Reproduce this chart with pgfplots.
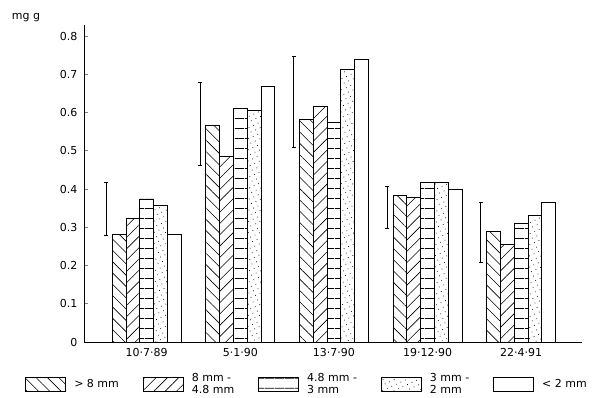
\documentclass[border=0pt]{standalone}
\usepackage{fontspec}
\setmainfont{DejaVu Sans}
\usepackage{pgfplots}
\pgfplotsset{compat=1.18}
\usetikzlibrary{patterns.meta}

% concentration (mg/g) per sieve fraction at each sampling date
\pgfplotstableread{
x     a      b      c      d      e
0     0.282  0.323  0.374  0.357  0.282
1     0.567  0.484  0.611  0.606  0.667
2     0.583  0.617  0.573  0.714  0.740
3     0.384  0.379  0.416  0.416  0.400
4     0.288  0.256  0.311  0.332  0.366
}\fractions

\pgfplotsset{
  legbox/.style={legend image code/.code={\draw[##1] (0bp,-7bp) rectangle (40bp,7bp);}},
  barstyle/.style={ybar, bar width=13.8bp, draw=black, line width=0.9bp, legbox},
}

\begin{document}
\begin{tikzpicture}[font=\fontsize{11bp}{12.5bp}\selectfont]
\useasboundingbox (-84bp,-56bp) rectangle (510bp,342bp);
\begin{axis}[
  scale only axis, width=498bp, height=317bp,
  xmin=-0.67, xmax=4.65, ymin=0, ymax=0.829,
  axis x line*=bottom, axis y line*=left,
  axis line style={-, line width=0.9bp},
  xtick={0,1,2,3,4},
  xticklabels={10·7·89,5·1·90,13·7·90,19·12·90,22·4·91},
  x tick style={draw=none},
  xticklabel style={yshift=-3bp},
  ytick={0,0.1,0.2,0.3,0.4,0.5,0.6,0.7,0.8},
  yticklabels={0,0.1,0.2,0.3,0.4,0.5,0.6,0.7,0.8},
  y tick style={line width=0.8bp},
  tick align=inside, major tick length=4bp,
  yticklabel style={xshift=-3bp},
  ylabel={mg g},
  ylabel style={rotate=-90, at={(axis description cs:-0.1165,1.024)}, anchor=center},
  legend columns=5,
  legend style={draw=none, fill=none, at={(axis description cs:0.448,-0.1325)}, anchor=center,
    inner sep=0pt,
    /tikz/every even column/.append style={column sep=22bp},
    /tikz/every odd column/.append style={column sep=6bp},
    cells={align=left}},
]
\addplot[barstyle, bar shift=-27.6bp, pattern={Lines[angle=-45,distance=8bp,line width=0.6bp]}]
  table[x=x,y=a] {\fractions};
\addlegendentry{> 8 mm}
\addplot[barstyle, bar shift=-13.8bp, pattern={Lines[angle=45,distance=8bp,line width=0.6bp]}]
  table[x=x,y=b] {\fractions};
\addlegendentry{8 mm -\\4.8 mm}
\addplot[barstyle, bar shift=0bp, pattern={Lines[angle=0,distance=10bp,line width=0.7bp]}]
  table[x=x,y=c] {\fractions};
\addlegendentry{4.8 mm -\\3 mm}
\addplot[barstyle, bar shift=13.8bp, pattern={Dots[distance=5bp,radius=0.5bp,angle=25]}]
  table[x=x,y=d] {\fractions};
\addlegendentry{3 mm -\\2 mm}
\addplot[barstyle, bar shift=27.6bp, fill=white]
  table[x=x,y=e] {\fractions};
\addlegendentry{< 2 mm}
% range bars to the left of each group
\addplot[forget plot, draw=none, mark=none,
  error bars/.cd, y dir=both, y explicit, error mark=|,
  error mark options={mark size=2bp, line width=0.8bp, draw=black},
  error bar style={line width=0.9bp, draw=black}]
  coordinates {
    (-0.43,0.348) +- (0,0.070)
    (0.57,0.570)  +- (0,0.108)
    (1.57,0.6285) +- (0,0.1195)
    (2.57,0.352)  +- (0,0.056)
    (3.57,0.287)  +- (0,0.079)
  };
\end{axis}
\end{tikzpicture}
\end{document}
